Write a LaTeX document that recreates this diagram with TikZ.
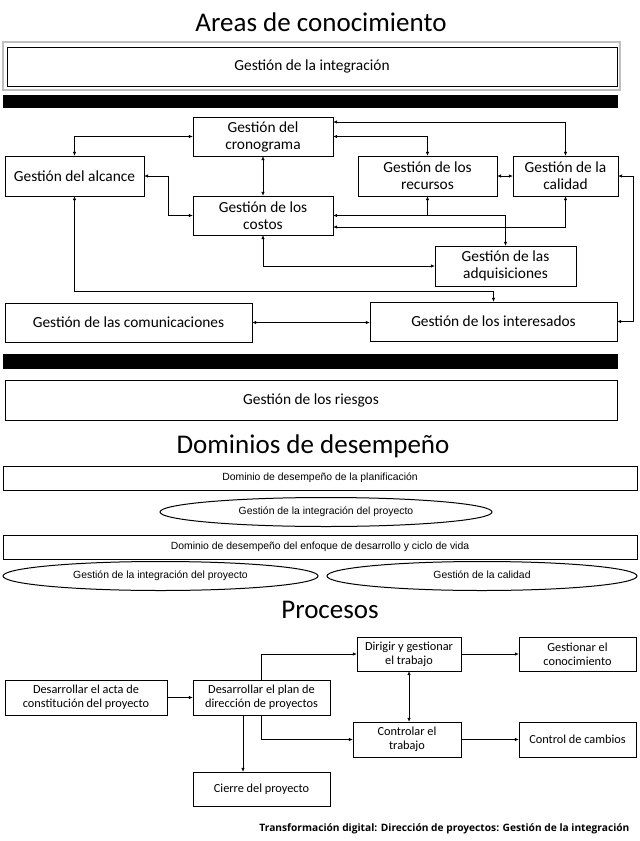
\documentclass[tikz,border=0pt]{standalone}
\usepackage{fontspec}
\setmainfont{Carlito}
\newfontfamily\arialfont{Liberation Sans}
\newfontfamily\footfont{Open Sans}
\usetikzlibrary{arrows.meta,shapes.geometric}

\begin{document}
\begin{tikzpicture}[x=1pt,y=-1pt]
		\tikzstyle{AreaStyle}    = [shape=rectangle, draw, inner sep=0pt, align=center, font=\fontsize{15.4}{17}\selectfont]
		\tikzstyle{DomainStyle}  = [shape=rectangle, draw, inner sep=0pt, minimum width=634pt, minimum height=24pt, font=\arialfont\fontsize{10.4}{12}\selectfont]
		\tikzstyle{OvalStyle}    = [shape=ellipse, draw, line width=1pt, inner sep=0pt, minimum height=29pt, text height=7.5pt, text depth=2pt, font=\arialfont\fontsize{10.4}{12}\selectfont]
		\tikzstyle{ProcessStyle} = [shape=rectangle, draw, inner sep=0pt, align=center, minimum height=34pt, font=\fontsize{12.3}{14}\selectfont]
		\tikzstyle{TitleStyle}   = [font=\fontsize{27}{31}\selectfont]
		\tikzstyle{EdgeStyle}    = [line width=0.6pt, >={Latex[length=4pt,width=3.5pt]}]
		\useasboundingbox (0,0) rectangle (640,841);

		% areas de conocimiento
		\node[TitleStyle] (AreasTitle) at (321,22) {Areas de conocimiento};
		\draw[gray!50, line width=2.5pt] (3,42) rectangle (620,90);
		\node[AreaStyle, minimum width=610pt, minimum height=39pt] (Integracion) at (312,66.5) {Gestión de la integración};
		\fill (3,95) rectangle (618,108);
		\node[AreaStyle, minimum width=140pt, minimum height=39pt] (Cronograma) at (263,136.5) {Gestión del\\cronograma};
		\node[AreaStyle, minimum width=139pt, minimum height=40pt] (Alcance) at (74.5,176) {Gestión del alcance};
		\node[AreaStyle, minimum width=140pt, minimum height=39pt] (Costos) at (263,215.5) {Gestión de los\\costos};
		\node[AreaStyle, minimum width=139pt, minimum height=40pt] (Recursos) at (427.5,176) {Gestión de los\\recursos};
		\node[AreaStyle, minimum width=105pt, minimum height=40pt] (Calidad) at (565.5,176) {Gestión de la\\calidad};
		\node[AreaStyle, minimum width=141pt, minimum height=40pt] (Adquisiciones) at (505.5,266) {Gestión de las\\adquisiciones};
		\node[AreaStyle, minimum width=247pt, minimum height=39pt] (Interesados) at (493.5,321.5) {Gestión de los interesados};
		\node[AreaStyle, minimum width=247pt, minimum height=39pt] (Comunicaciones) at (128.5,322.5) {Gestión de las comunicaciones};
		\fill (3,354) rectangle (618,369);
		\node[AreaStyle, minimum width=612pt, minimum height=40pt] (Riesgos) at (311,400) {Gestión de los riesgos};

		\draw[EdgeStyle, <->] (Alcance.north) |- (Cronograma.west);
		\draw[EdgeStyle, <->] (Alcance.east) -- ++(24,0) |- (Costos.west);
		\draw[EdgeStyle, <->] (Cronograma.south) -- (Costos.north);
		\draw[EdgeStyle, <->] (Cronograma.east |- 0,122) -| (Calidad.north);
		\draw[EdgeStyle, <->] (Cronograma.east) -| (Recursos.north);
		\draw[EdgeStyle, <->] (Recursos.east) -- (Calidad.west);
		\draw[EdgeStyle, <->] (Costos.east) -| (Adquisiciones.north);
		\draw[EdgeStyle, ->] (Recursos.south |- Costos.east) -- (Recursos.south);
		\draw[EdgeStyle, <->] (Calidad.south) |- (Costos.east |- 0,227);
		\draw[EdgeStyle, <->] (Costos.south) |- (Adquisiciones.west);
		\draw[EdgeStyle, <->] (Alcance.south) -- (Alcance.south |- 0,291) -| (Interesados.north);
		\draw[EdgeStyle, <->] (Comunicaciones.east) -- (Comunicaciones.east -| Interesados.west);
		\draw[EdgeStyle, <->] (Calidad.east) -- ++(15,0) |- (Interesados.east);

		% dominios de desempeno
		\node[TitleStyle] (DominiosTitle) at (313,446) {Dominios de desempeño};
		\node[DomainStyle] (Planificacion) at (320,478) {Dominio de desempeño de la planificación};
		\node[OvalStyle, minimum width=332pt] (IntegracionA) at (326,512) {Gestión de la integración del proyecto};
		\node[DomainStyle] (Enfoque) at (320,547) {Dominio de desempeño del enfoque de desarrollo y ciclo de vida};
		\node[OvalStyle, minimum width=315pt] (IntegracionB) at (160.5,576) {Gestión de la integración del proyecto};
		\node[OvalStyle, minimum width=310pt] (CalidadB) at (482,576) {Gestión de la calidad};

		% procesos
		\node[TitleStyle] (ProcesosTitle) at (330,610) {Procesos};
		\node[ProcessStyle, minimum width=104pt] (Dirigir) at (409,654) {Dirigir y gestionar\\el trabajo};
		\node[ProcessStyle, minimum width=117pt] (Conocimiento) at (577.5,654) {Gestionar el\\conocimiento};
		\node[ProcessStyle, minimum width=162pt, minimum height=35pt] (Acta) at (86,697.5) {Desarrollar el acta de\\constitución del proyecto};
		\node[ProcessStyle, minimum width=137pt, minimum height=35pt] (Plan) at (261.5,697.5) {Desarrollar el plan de\\dirección de proyectos};
		\node[ProcessStyle, minimum width=108pt, minimum height=35pt] (Controlar) at (407,739.5) {Controlar el\\trabajo};
		\node[ProcessStyle, minimum width=117pt, minimum height=35pt] (Cambios) at (577.5,739.5) {Control de cambios};
		\node[ProcessStyle, minimum width=137pt] (Cierre) at (261.5,789) {Cierre del proyecto};

		\draw[EdgeStyle, ->] (Acta) -- (Plan);
		\draw[EdgeStyle, ->] (Plan.north) |- (Dirigir.west);
		\draw[EdgeStyle, ->] (Plan.south) |- (Controlar.west);
		\draw[EdgeStyle, ->] (Plan.south -| 243,0) -- (Cierre.north -| 243,0);
		\draw[EdgeStyle, ->] (Dirigir) -- (Conocimiento);
		\draw[EdgeStyle, ->] (Controlar) -- (Cambios);
		\draw[EdgeStyle, <->] (Dirigir.south) -- (Dirigir.south |- Controlar.north);

		\node[anchor=east, font=\footfont\bfseries\fontsize{10.2}{12}\selectfont] (Footer) at (633,829) {Transformación digital: Dirección de proyectos: Gestión de la integración};
	\end{tikzpicture}
\end{document}
